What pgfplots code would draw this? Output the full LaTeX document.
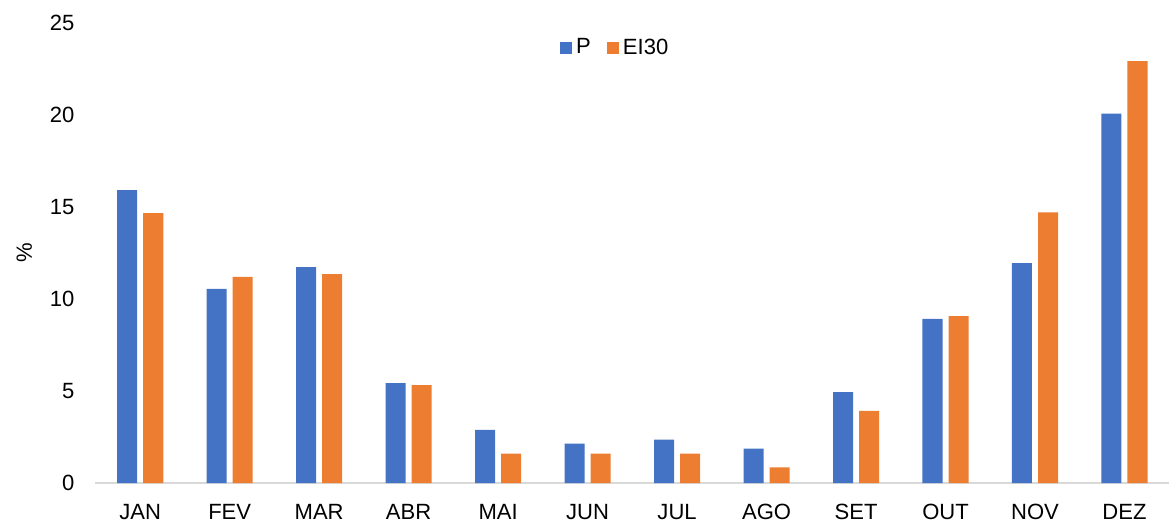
\documentclass[border={5pt 0pt 0pt 4pt}]{standalone}
\usepackage{fontspec}
\setmainfont{Liberation Sans}
\usepackage{pgfplots}
\pgfplotsset{compat=1.18}
\definecolor{serP}{HTML}{4472C4}
\definecolor{serE}{HTML}{ED7D31}
\definecolor{axgray}{HTML}{D9D9D9}

\begin{document}
\begin{tikzpicture}
\begin{axis}[
    scale only axis,
    width=536pt, height=230pt,
    ybar, bar width=10pt,
    xmin=-0.5, xmax=11.5,
    ymin=0, ymax=25,
    ytick={0,5,...,25},
    xtick={0,...,11},
    xticklabels={JAN,FEV,MAR,ABR,MAI,JUN,JUL,AGO,SET,OUT,NOV,DEZ},
    axis x line*=bottom,
    axis y line*=left,
    x axis line style={axgray, line width=0.8pt, -},
    y axis line style={draw=none},
    major tick length=0pt,
    ylabel={\%},
    ylabel style={font=\fontsize{11}{13}\selectfont, yshift=2pt},
    every tick label/.append style={font=\fontsize{11}{13}\selectfont},
    /pgf/number format/assume math mode=true,
    yticklabel style={xshift=-7pt},
    xticklabel style={yshift=-7pt},
    legend style={at={(0.485,0.945)}, anchor=center, draw=none, fill=none,
        legend columns=-1, font=\fontsize{11}{13}\selectfont,
        /tikz/every even column/.append style={column sep=6pt}},
    legend image code/.code={\fill[#1] (0pt,-3pt) rectangle (6pt,3pt);},
    clip=false,
]
\addplot[fill=serP, draw=none, bar shift=-6.5pt] coordinates {
 (0,15.9) (1,10.55) (2,11.72) (3,5.43) (4,2.9) (5,2.15)
 (6,2.37) (7,1.88) (8,4.95) (9,8.92) (10,11.94) (11,20.05)};
\addplot[fill=serE, draw=none, bar shift=6.5pt] coordinates {
 (0,14.66) (1,11.2) (2,11.34) (3,5.32) (4,1.6) (5,1.6)
 (6,1.6) (7,0.86) (8,3.92) (9,9.07) (10,14.7) (11,22.9)};
\legend{P, EI30}
\end{axis}
\end{tikzpicture}
\end{document}
